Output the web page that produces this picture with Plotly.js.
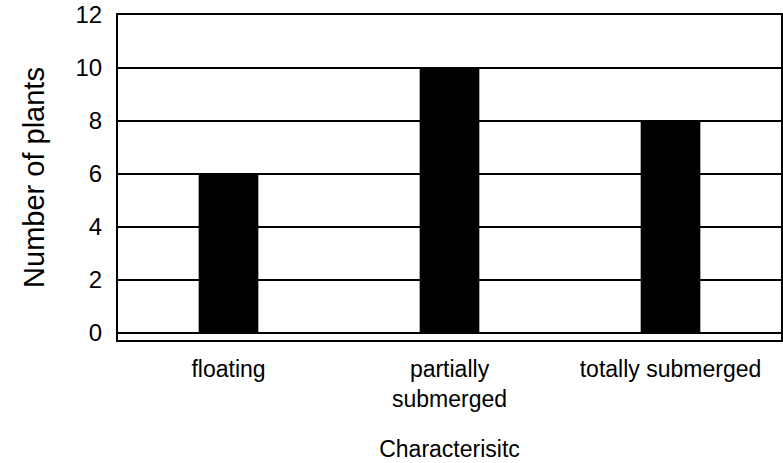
<!DOCTYPE html>
<html>
<head>
<meta charset="utf-8">
<script src="https://cdn.plot.ly/plotly-3.0.1.min.js"></script>
<style>html,body{margin:0;padding:0;background:#fff;}#chart{width:783px;height:463px;}</style>
</head>
<body>
<div id="chart"></div>
<script>
const categories = ["floating", "partially<br>submerged", "totally submerged"];
const plantCounts = [6, 10, 8];
const yTickValues = [0, 2, 4, 6, 8, 10, 12];

const trace = {
  type: "bar",
  x: categories,
  y: plantCounts,
  width: 0.27,
  marker: {color: "#000000", line: {width: 0}},
  hoverinfo: "x+y"
};

const layout = {
  width: 783,
  height: 463,
  margin: {l: 118, r: 2, t: 15, b: 123},
  paper_bgcolor: "#ffffff",
  plot_bgcolor: "#ffffff",
  font: {family: "Liberation Sans, Arial, sans-serif", size: 23, color: "#000"},
  showlegend: false,
  xaxis: {
    type: "category",
    range: [-0.5, 2.5],
    showgrid: false,
    showline: true,
    linecolor: "#000",
    linewidth: 2,
    mirror: true,
    ticks: "",
    ticklabelstandoff: 7,
    tickfont: {size: 23},
    title: {text: "Characterisitc", font: {size: 23}, standoff: 30}
  },
  yaxis: {
    range: [-0.264, 12],
    tickvals: yTickValues,
    showgrid: true,
    gridcolor: "#000",
    gridwidth: 2,
    zeroline: true,
    zerolinecolor: "#000",
    zerolinewidth: 2,
    showline: true,
    linecolor: "#000",
    linewidth: 2,
    mirror: true,
    ticks: "",
    ticklabelstandoff: 9,
    tickfont: {size: 24},
    title: {text: "Number of plants", font: {size: 29}, standoff: 22}
  }
};

Plotly.newPlot("chart", [trace], layout, {staticPlot: true, displayModeBar: false});
</script>
</body>
</html>
